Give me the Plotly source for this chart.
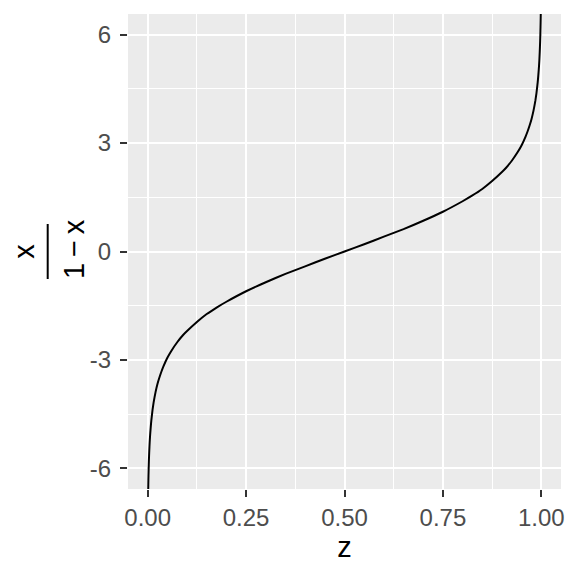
import plotly.graph_objects as go

# values (z, y)
z_vals = [0.001, 0.0013, 0.0016, 0.002, 0.0025, 0.003, 0.004, 0.005, 0.006, 0.007, 0.0085, 0.01,
          0.0125, 0.015, 0.0175, 0.02, 0.025, 0.03, 0.035, 0.04, 0.05, 0.06, 0.075, 0.09,
          0.1, 0.125, 0.15, 0.175, 0.2, 0.25, 0.3, 0.35, 0.4, 0.45, 0.5,
          0.55, 0.6, 0.65, 0.7, 0.75, 0.8, 0.825, 0.85, 0.875, 0.9, 0.91, 0.925, 0.94, 0.95,
          0.96, 0.965, 0.97, 0.975, 0.98, 0.9825, 0.985, 0.9875, 0.99, 0.9915, 0.993, 0.994,
          0.995, 0.996, 0.997, 0.9975, 0.998, 0.9984, 0.9987, 0.999]
y_vals = [-6.91, -6.64, -6.44, -6.21, -5.99, -5.81, -5.52, -5.29, -5.11, -4.96, -4.76, -4.60,
          -4.37, -4.18, -4.03, -3.89, -3.66, -3.48, -3.32, -3.18, -2.94, -2.75, -2.51, -2.31,
          -2.20, -1.95, -1.73, -1.55, -1.39, -1.10, -0.85, -0.62, -0.41, -0.20, 0.0,
          0.20, 0.41, 0.62, 0.85, 1.10, 1.39, 1.55, 1.73, 1.95, 2.20, 2.31, 2.51, 2.75, 2.94,
          3.18, 3.32, 3.48, 3.66, 3.89, 4.03, 4.18, 4.37, 4.60, 4.76, 4.96, 5.11,
          5.29, 5.52, 5.81, 5.99, 6.21, 6.44, 6.64, 6.91]

x_ticks = [0.0, 0.25, 0.5, 0.75, 1.0]
x_labels = ["0.00", "0.25", "0.50", "0.75", "1.00"]
y_ticks = [-6, -3, 0, 3, 6]
y_labels = ["-6", "-3", "0", "3", "6"]

FONT = "Liberation Sans, Arial, sans-serif"

fig = go.Figure()
fig.add_trace(go.Scatter(x=z_vals, y=y_vals, mode="lines",
                         line=dict(color="black", width=2, shape="spline", smoothing=0.5),
                         showlegend=False, cliponaxis=True))

# page has an 8px body margin, so the figure is 568x568 drawn at (8, 8)
OFF = 8
W = H = 576 - OFF
L, R, T, B = 128 - OFF, 15, 14 - OFF, 87
pw = W - L - R
ph = H - T - B

def px_x(p):
    return (p - OFF - L) / pw

def px_y(p):
    return (H - B - (p - OFF)) / ph

fig.update_layout(
    width=W, height=H,
    margin=dict(l=L, r=R, t=T, b=B, autoexpand=False),
    paper_bgcolor="white", plot_bgcolor="#EBEBEB",
    font=dict(family=FONT),
    xaxis=dict(range=[-0.05, 1.05], tickvals=x_ticks, ticktext=x_labels,
               showgrid=True, gridcolor="white", gridwidth=2,
               minor=dict(dtick=0.125, tick0=0.125, showgrid=True, gridcolor="white", gridwidth=1),
               zeroline=False, showline=False, automargin=False,
               ticks="outside", ticklen=7, tickwidth=2, tickcolor="#333333",
               tickfont=dict(size=24, color="#4D4D4D", family=FONT),
               ticklabelstandoff=0,
               title=dict(text="z", font=dict(size=29, color="black", family=FONT), standoff=6)),
    yaxis=dict(range=[-6.57, 6.57], tickvals=y_ticks, ticktext=y_labels,
               showgrid=True, gridcolor="white", gridwidth=2,
               minor=dict(dtick=3, tick0=1.5, showgrid=True, gridcolor="white", gridwidth=1),
               zeroline=False, showline=False, automargin=False,
               ticks="outside", ticklen=7, tickwidth=2, tickcolor="#333333",
               tickfont=dict(size=24, color="#4D4D4D", family=FONT),
               ticklabelstandoff=4),
)

# y-axis title as a fraction x / (1 - x)
fig.add_annotation(text="x", xref="paper", yref="paper", x=px_x(23.7), y=px_y(251),
                   showarrow=False, textangle=-90, xanchor="center", yanchor="middle",
                   font=dict(size=29, color="black", family=FONT))
fig.add_annotation(text="1\u2009\u2212\u2009x", xref="paper", yref="paper", x=px_x(74), y=px_y(249),
                   showarrow=False, textangle=-90, xanchor="center", yanchor="middle",
                   font=dict(size=29, color="black", family=FONT))
fig.add_shape(type="line", xref="paper", yref="paper",
              x0=px_x(47.7), x1=px_x(47.7), y0=px_y(224), y1=px_y(279),
              line=dict(color="black", width=2))

fig.write_html("out.html")
